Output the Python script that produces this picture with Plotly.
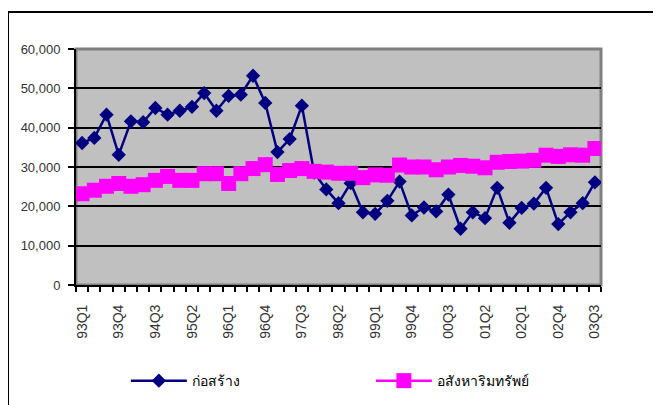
import plotly.graph_objects as go

# %% Data
quarters = [
    '93Q1', '93Q2', '93Q3', '93Q4', '94Q1', '94Q2', '94Q3', '94Q4',
    '95Q1', '95Q2', '95Q3', '95Q4', '96Q1', '96Q2', '96Q3', '96Q4',
    '97Q1', '97Q2', '97Q3', '97Q4', '98Q1', '98Q2', '98Q3', '98Q4',
    '99Q1', '99Q2', '99Q3', '99Q4', '00Q1', '00Q2', '00Q3', '00Q4',
    '01Q1', '01Q2', '01Q3', '01Q4', '02Q1', '02Q2', '02Q3', '02Q4',
    '03Q1', '03Q2', '03Q3',
]
tick_labels = ['93Q1', '93Q4', '94Q3', '95Q2', '96Q1', '96Q4', '97Q3', '98Q2',
               '99Q1', '99Q4', '00Q3', '01Q2', '02Q1', '02Q4', '03Q3']

construction = [
    36100, 37400, 43300, 33100, 41600, 41400, 45000, 43300,
    44300, 45300, 48800, 44300, 48100, 48400, 53200, 46300,
    33800, 37100, 45600, 28600, 24300, 20800, 25900, 18500,
    18100, 21400, 26300, 17700, 19700, 18700, 23000, 14300,
    18500, 17000, 24700, 15800, 19600, 20700, 24700, 15500,
    18500, 20800, 26100,
]
real_estate = [
    23200, 24100, 25100, 25800, 25100, 25500, 26600, 27600,
    26600, 26600, 28300, 28300, 25800, 28300, 29600, 30600,
    28100, 29100, 29600, 28900, 28700, 28400, 28400, 27300,
    28000, 27900, 30500, 30000, 30000, 29300, 30000, 30400,
    30200, 29800, 31200, 31400, 31500, 31700, 33000, 32700,
    33100, 33000, 34700,
]
names = ['ก่อสร้าง', 'อสังหาริมทรัพย์']

# %% Figure
fig = go.Figure()
fig.add_trace(go.Scatter(x=quarters, y=construction, name=names[0],
                         mode='lines+markers',
                         line=dict(color='#000080', width=2.5),
                         marker=dict(symbol='diamond', size=11,
                                     color='#000080')))
fig.add_trace(go.Scatter(x=quarters, y=real_estate, name=names[1],
                         mode='lines+markers',
                         line=dict(color='#FF00FF', width=2.5),
                         marker=dict(symbol='square', size=15,
                                     color='#FF00FF')))

ticktext = [q if q in tick_labels else '' for q in quarters]

fig.update_xaxes(type='category', range=[-0.5, len(quarters) - 0.5],
                 tickmode='array', tickvals=quarters, ticktext=ticktext,
                 tickson='boundaries', tickangle=-90, ticklabelstandoff=12,
                 ticks='outside', ticklen=5, tickwidth=2, tickcolor='black',
                 showline=True, linecolor='black', linewidth=2,
                 showgrid=False, zeroline=False, automargin=False,
                 tickfont=dict(family='Liberation Sans, Arial', size=14,
                               color='#333333'))
fig.update_yaxes(range=[0, 60000], dtick=10000, tickformat=',',
                 ticks='outside', ticklen=6, tickwidth=2, tickcolor='black',
                 ticklabelstandoff=5,
                 showline=True, linecolor='black', linewidth=2,
                 showgrid=True, gridcolor='black', gridwidth=2,
                 zeroline=False, automargin=False,
                 tickfont=dict(family='Liberation Sans, Arial', size=13,
                               color='#333333'))

# grey top/right edge of the plot area and the outer chart frame
fig.add_shape(type='rect', xref='paper', yref='paper', x0=0, x1=1, y0=0,
              y1=1, line=dict(color='#808080', width=3), layer='between')
fig.add_shape(type='rect', xref='paper', yref='paper', x0=-0.1295,
              x1=1.2, y0=-0.6, y1=1.1568, line=dict(color='black', width=2))

# page body adds 8px around the figure, so the figure is 8px smaller
fig.update_layout(
    width=653, height=397,
    margin=dict(l=68, r=60, t=41, b=120, autoexpand=False),
    paper_bgcolor='white', plot_bgcolor='#C0C0C0',
    showlegend=True,
    legend=dict(orientation='h', x=0.095, xanchor='left', y=-0.407,
                yanchor='middle', itemwidth=56, entrywidth=174,
                font=dict(family='Noto Sans, DejaVu Sans', size=14,
                          color='black'),
                bgcolor='rgba(0,0,0,0)'),
)

fig.write_html('out.html')
